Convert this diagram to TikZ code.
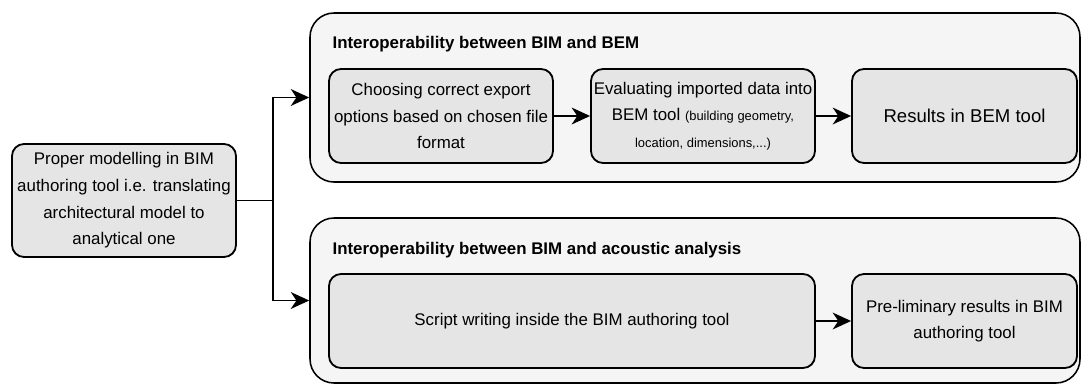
\documentclass[tikz,border=0pt]{standalone}
\usepackage{fontspec}
\setmainfont{Liberation Sans}
\usetikzlibrary{arrows.meta}

\begin{document}
\begin{tikzpicture}[thick,
    caixa/.style={draw, line width=1.3pt, rounded corners=0.3cm, fill=gray!20, align=center, inner sep=1pt, font=\fontsize{12}{19}\selectfont},
    grupo/.style={draw, line width=1.1pt, rounded corners=0.6cm, fill=gray!8},
    titulo/.style={anchor=west, inner sep=0pt, font=\bfseries\fontsize{12}{14}\selectfont},
    seta/.style={line width=1.3pt, -{Stealth[length=0.46cm, width=0.42cm, inset=0.14cm]}}]
    \useasboundingbox (0,0) rectangle (27.025,-9.6);

    % Grupos de fundo
    \node[grupo, minimum width=19.25cm, minimum height=4.225cm] (bem) at (17.375,-2.4375) {};
    \node[grupo, minimum width=19.25cm, minimum height=4.125cm] (acu) at (17.375,-7.5125) {};
    \node[titulo] (tbem) at (8.3,-1.1) {Interoperability between BIM and BEM};
    \node[titulo] (tacu) at (8.3,-6.25) {Interoperability between BIM and acoustic analysis};

    % Caixa inicial
    \node[caixa, minimum width=5.6cm, minimum height=2.825cm] (bim) at (3.1,-5.0125) {Proper modelling in BIM\\authoring tool i.e. translating\\architectural model to\\analytical one};

    % Caixas do BEM
    \node[caixa, minimum width=5.6cm, minimum height=2.35cm] (exp) at (11.025,-2.9) {Choosing correct export\\options based on chosen file\\format};
    \node[caixa, minimum width=5.6cm, minimum height=2.35cm] (aval) at (17.575,-2.9) {Evaluating imported data into\\BEM tool {\fontsize{9.2}{11}\selectfont (building geometry,}\\{\fontsize{9.2}{11}\selectfont location, dimensions,...)}};
    \node[caixa, minimum width=5.625cm, minimum height=2.35cm, font=\fontsize{13.2}{19}\selectfont] (resbem) at (24.1125,-2.9) {Results in BEM tool};

    % Caixas da acustica
    \node[caixa, minimum width=12.15cm, minimum height=2.35cm] (script) at (14.3,-8.025) {Script writing inside the BIM authoring tool};
    \node[caixa, minimum width=5.625cm, minimum height=2.35cm] (resbim) at (24.1125,-8.025) {Pre-liminary results in BIM\\authoring tool};

    % Ligacoes
    \coordinate (split) at (6.825,-5.0125);
    \draw[line width=1.3pt] (bim.east) -- (split);
    \draw[seta] (split) |- (bem.west);
    \draw[seta] (split) |- (acu.west);
    \draw[seta] (exp) -- (aval);
    \draw[seta] (aval) -- (resbem);
    \draw[seta] (script) -- (resbim);
\end{tikzpicture}
\end{document}
